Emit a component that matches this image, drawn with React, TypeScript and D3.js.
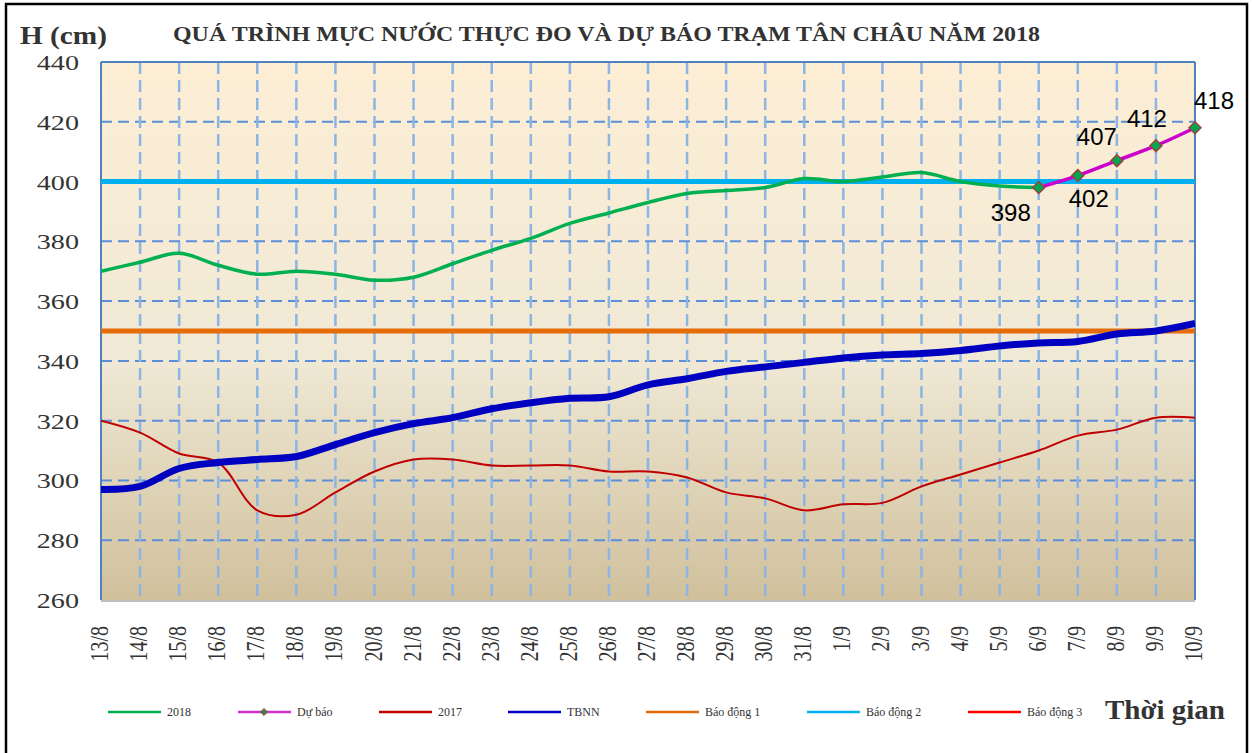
import React from "react";
import * as d3 from "d3";

const dates = [
  "13/8", "14/8", "15/8", "16/8", "17/8", "18/8", "19/8", "20/8", "21/8", "22/8",
  "23/8", "24/8", "25/8", "26/8", "27/8", "28/8", "29/8", "30/8", "31/8",
  "1/9", "2/9", "3/9", "4/9", "5/9", "6/9", "7/9", "8/9", "9/9", "10/9",
];

// measured 2018 (13/8 -> 6/9)
const h2018 = [
  370, 373, 376, 372, 369, 370, 369, 367, 368, 372.5, 377, 381, 386, 389.5, 393,
  396, 397, 398, 401, 400, 401.5, 403, 400, 398.5, 398,
];

// forecast (6/9 -> 10/9)
const forecastDates = ["6/9", "7/9", "8/9", "9/9", "10/9"];
const forecast = [398, 402, 407, 412, 418];

const h2017 = [
  320, 316, 309, 306, 290, 288.5, 296, 303, 307, 307, 305, 305, 305, 303, 303,
  301, 296, 294, 290, 292, 292.5, 298, 302, 306, 310, 315, 317, 321, 321,
];

const tbnn = [
  297, 298, 304, 306, 307, 308, 312, 316, 319, 321, 324, 326, 327.5, 328, 332,
  334, 336.5, 338, 339.5, 341, 342, 342.5, 343.5, 345, 346, 346.5, 349, 350, 352.5,
];

const alarmLevels = [350, 400, 450];
const yTicks = [260, 280, 300, 320, 340, 360, 380, 400, 420, 440];

// where each forecast label sits relative to its point
const labelOffsets = [
  [-28, 33], [11, 31], [-20, -16], [-9, -19], [19, -19],
];

const legendItems = [
  { label: "2018", color: "#00B050", x: 108 },
  { label: "Dự báo", color: "#CC33CC", x: 238, marker: true },
  { label: "2017", color: "#C00000", x: 379 },
  { label: "TBNN", color: "#0000C0", x: 508 },
  { label: "Báo động 1", color: "#E46C0A", x: 646 },
  { label: "Báo động 2", color: "#00B0F0", x: 807 },
  { label: "Báo động 3", color: "#FF0000", x: 968 },
];

const W = 1253;
const H = 753;
const left = 101, right = 1195, top = 62, bottom = 600;
const serif = "'Liberation Serif', 'Times New Roman', serif";
const sans = "'Liberation Sans', Arial, sans-serif";
const sx = 1.28;

export default function App() {
  const x = d3.scalePoint<string>().domain(dates).range([left, right]);
  const y = d3.scaleLinear().domain([260, 440]).range([bottom, top]);

  const line = (keys: string[], vals: number[]) =>
    d3
      .line<number>()
      .x((_, i) => x(keys[i]) as number)
      .y((d) => y(d))
      .curve(d3.curveCatmullRom.alpha(0.5))(vals) as string;

  const diamond = d3.symbol().type(d3.symbolDiamond2).size(90)() as string;
  const smallDiamond = d3.symbol().type(d3.symbolDiamond2).size(30)() as string;

  return (
    <svg width={W} height={H} style={{ position: "absolute", left: 0, top: 0, background: "#fff" }}>
      <defs>
        <linearGradient id="bg" x1="0" y1="0" x2="0" y2="1">
          <stop offset="0" stopColor="#FDEED5" />
          <stop offset="0.55" stopColor="#F0E9D6" />
          <stop offset="1" stopColor="#D0C09C" />
        </linearGradient>
        <clipPath id="plot">
          <rect x={left} y={top} width={right - left} height={bottom - top} />
        </clipPath>
      </defs>

      <rect x={6} y={4} width={1241} height={780} fill="none" stroke="#000" strokeWidth={2.5} />

      <text
        x={173} y={41} fontFamily={serif} fontWeight="bold" fontSize={21} fill="#333"
        textLength={867} lengthAdjust="spacingAndGlyphs"
      >
        QUÁ TRÌNH MỰC NƯỚC THỰC ĐO VÀ DỰ BÁO TRẠM TÂN CHÂU NĂM 2018
      </text>
      <text
        x={20} y={44} fontFamily={serif} fontWeight="bold" fontSize={25} fill="#333"
        textLength={87} lengthAdjust="spacingAndGlyphs"
      >
        H (cm)
      </text>

      <rect x={left} y={top} width={right - left} height={bottom - top} fill="url(#bg)" />

      {yTicks.slice(1, -1).map((t) => (
        <line key={"h" + t} x1={left} x2={right} y1={y(t)} y2={y(t)}
          stroke="#5B8ED8" strokeWidth={2} strokeDasharray="11,6" />
      ))}
      {dates.slice(1, -1).map((d) => (
        <line key={"v" + d} x1={x(d)} x2={x(d)} y1={top} y2={bottom}
          stroke="#8CB4E4" strokeWidth={2.5} strokeDasharray="12,6" />
      ))}

      <line x1={left} x2={right} y1={bottom + 1} y2={bottom + 1} stroke="#BFBFBF" strokeWidth={2} />
      <line x1={left} x2={right} y1={top} y2={top} stroke="#4F81BD" strokeWidth={2} />
      <line x1={left} x2={left} y1={top} y2={bottom} stroke="#4F81BD" strokeWidth={2} />
      <line x1={right} x2={right} y1={top} y2={bottom} stroke="#4F81BD" strokeWidth={2} />

      <g clipPath="url(#plot)">
        {alarmLevels.map((a, i) => (
          <line key={"a" + i} x1={left} x2={right} y1={y(a)} y2={y(a)}
            stroke={legendItems[4 + i].color} strokeWidth={5} />
        ))}
        <path d={line(dates, h2017)} fill="none" stroke="#C00000" strokeWidth={2} />
        <path d={line(dates, tbnn)} fill="none" stroke="#0000C0" strokeWidth={7} />
        <path d={line(dates, h2018)} fill="none" stroke="#00B050" strokeWidth={3.5} />
      </g>
      <path d={line(forecastDates, forecast)} fill="none" stroke="#CC00CC" strokeWidth={3.5}
        strokeLinejoin="round" />
      {forecast.map((v, i) => (
        <path key={"m" + i} d={diamond}
          transform={`translate(${x(forecastDates[i])},${y(v)})`}
          fill="#00A651" stroke="#A0403A" strokeWidth={1.5} />
      ))}
      {forecast.map((v, i) => (
        <text key={"l" + i} x={(x(forecastDates[i]) as number) + labelOffsets[i][0]}
          y={y(v) + labelOffsets[i][1]} textAnchor="middle" fontFamily={sans} fontSize={24} fill="#000">
          {v}
        </text>
      ))}

      {yTicks.map((t) => (
        <text key={"yt" + t} transform={`translate(79,${y(t) + 8}) scale(${sx},1)`}
          textAnchor="end" fontFamily={serif} fontSize={22} fill="#333">
          {t}
        </text>
      ))}
      {dates.map((d) => (
        <text key={"xt" + d}
          transform={`translate(${(x(d) as number) + 7},626) scale(${sx},1) rotate(-90)`}
          textAnchor="end" fontFamily={serif} fontSize={20} fill="#333">
          {d}
        </text>
      ))}

      {legendItems.map((it) => (
        <g key={it.label}>
          <line x1={it.x} x2={it.x + 53} y1={712} y2={712} stroke={it.color} strokeWidth={2.5} />
          {it.marker && (
            <path d={smallDiamond} transform={`translate(${it.x + 26},712)`} fill="#2E8B3E" stroke="#A0403A" strokeWidth={1} />
          )}
          <text x={it.x + 59} y={716} fontFamily={serif} fontSize={12} fill="#333">
            {it.label}
          </text>
        </g>
      ))}
      <text x={1105} y={719} fontFamily={serif} fontWeight="bold" fontSize={27} fill="#333"
        textLength={120} lengthAdjust="spacingAndGlyphs">
        Thời gian
      </text>
    </svg>
  );
}
